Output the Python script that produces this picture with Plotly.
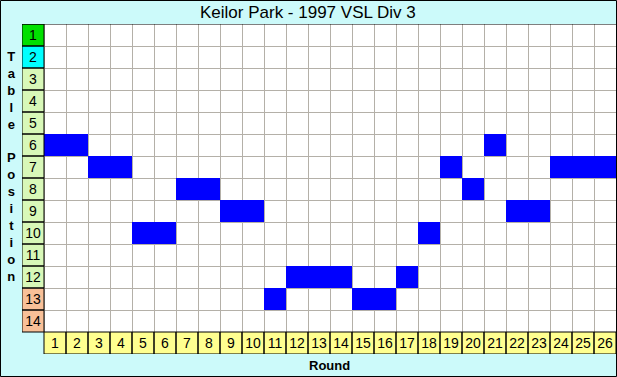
import plotly.graph_objects as go

W, H = 617, 377
title = "Keilor Park - 1997 VSL Div 3"
rounds = list(range(1, 27))
positions = [6, 6, 7, 7, 10, 10, 8, 8, 9, 9, 13, 12, 12, 12, 13, 13, 12, 10, 7, 8, 6, 9, 9, 7, 7, 7]
table_positions = list(range(1, 15))
# colour band per table position: 0 = champion, 1 = runner-up, 2 = middle, 3 = relegation
position_band = [0, 1, 2, 2, 2, 2, 2, 2, 2, 2, 2, 2, 3, 3]
band_colors = ["#00e000", "#00ffff", "#d8f8b8", "#f8c098"]
round_label_color = "#ffff90"
bg = "#ccfafa"
mark_color = "#0000ff"
grid_color = "#b4b0a8"

fig = go.Figure()

# blue marks
z = [[None] * len(rounds) for _ in table_positions]
for r, p in zip(rounds, positions):
    z[p - 1][r - 1] = 1
fig.add_trace(go.Heatmap(
    x=rounds, y=table_positions, z=z,
    colorscale=[[0, mark_color], [1, mark_color]], zmin=0, zmax=1,
    showscale=False, hoverinfo="skip"))

# position label column
nb = len(band_colors) - 1
fig.add_trace(go.Heatmap(
    x=[0], y=table_positions, z=[[b] for b in position_band],
    text=[[str(p)] for p in table_positions], texttemplate="%{text}",
    textfont=dict(family="Liberation Sans, Arial", size=14, color="black"),
    colorscale=[[i / nb, c] for i, c in enumerate(band_colors)], zmin=0, zmax=nb,
    showscale=False, hoverinfo="skip"))

# round label row
fig.add_trace(go.Heatmap(
    x=rounds, y=[15], z=[[0] * len(rounds)],
    text=[[str(r) for r in rounds]], texttemplate="%{text}",
    textfont=dict(family="Liberation Sans, Arial", size=14, color="black"),
    colorscale=[[0, round_label_color], [1, round_label_color]], zmin=0, zmax=1,
    showscale=False, hoverinfo="skip"))

shapes = []
# corner cell background
shapes.append(dict(type="rect", xref="x", yref="y", x0=-0.5, x1=0.5, y0=14.5, y1=15.5,
                   fillcolor=bg, line=dict(width=0), layer="between"))
# label cell borders
for p in table_positions:
    shapes.append(dict(type="rect", xref="x", yref="y", x0=-0.5, x1=0.5, y0=p - 0.5, y1=p + 0.5,
                       line=dict(color="black", width=1), layer="above"))
for r in rounds:
    shapes.append(dict(type="rect", xref="x", yref="y", x0=r - 0.5, x1=r + 0.5, y0=14.5, y1=15.5,
                       line=dict(color="black", width=1), layer="above"))
# grid top border
shapes.append(dict(type="line", xref="x", yref="y", x0=-0.5, x1=26.5, y0=0.5, y1=0.5,
                   line=dict(color="black", width=1), layer="above"))
# outer frame
shapes.append(dict(type="rect", xref="paper", yref="paper",
                   x0=0.5 / W, x1=616.5 / W, y0=1 - 376.5 / H, y1=1 - 0.5 / H,
                   line=dict(color="black", width=1), layer="above"))

annotations = [
    dict(text=title, xref="paper", yref="paper", x=308 / W, y=1 - 12 / H,
         xanchor="center", yanchor="middle", showarrow=False,
         font=dict(family="Liberation Sans, Arial", size=17, color="black")),
    dict(text="<b>" + "<br>".join(list("Table Position")) + "</b>", xref="paper", yref="paper",
         x=11 / W, y=1 - 166 / H, xanchor="center", yanchor="middle", showarrow=False,
         font=dict(family="Liberation Sans, Arial", size=13, color="black")),
    dict(text="<b>Round</b>", xref="paper", yref="paper", x=330 / W, y=1 - 365 / H,
         xanchor="center", yanchor="middle", showarrow=False,
         font=dict(family="Liberation Sans, Arial", size=13, color="black")),
]

fig.update_layout(
    width=W, height=H, margin=dict(l=0, r=0, t=0, b=0),
    paper_bgcolor=bg, plot_bgcolor="white",
    xaxis=dict(domain=[22 / W, 616 / W], range=[-0.5, 26.5],
               tickvals=[i + 0.5 for i in range(0, 27)], showticklabels=False, ticks="",
               showgrid=True, gridcolor=grid_color, gridwidth=1, zeroline=False, fixedrange=True),
    yaxis=dict(domain=[1 - 354 / H, 1 - 24 / H], range=[15.5, 0.5],
               tickvals=[i + 0.5 for i in range(0, 15)], showticklabels=False, ticks="",
               showgrid=True, gridcolor=grid_color, gridwidth=1, zeroline=False, fixedrange=True),
    shapes=shapes, annotations=annotations, showlegend=False,
)

fig.write_html("out.html", config={"displayModeBar": False})
